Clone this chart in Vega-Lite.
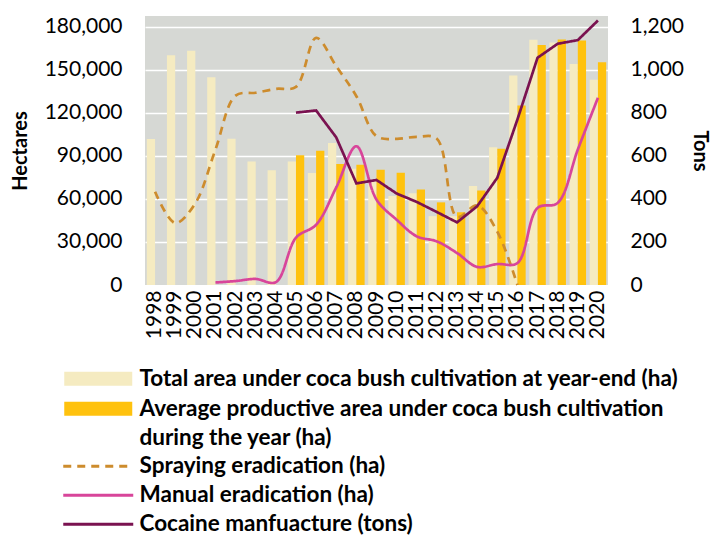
{
  "$schema": "https://vega.github.io/schema/vega-lite/v6.json",
  "width": 463,
  "height": 269,
  "autosize": {"type": "none"},
  "padding": {"left": 145, "top": 16, "right": 105, "bottom": 251},
  "background": "white",
  "config": {
    "view": {"fill": "#D6D8D4", "stroke": null},
    "font": "Lato",
    "axis": {"labelFont": "Lato", "titleFont": "Lato", "labelColor": "black", "titleColor": "black"},
    "legend": {"labelFont": "Lato"}
  },
  "datasets": {
    "bars": [
      {"year": "1998", "series": "Total area under coca bush cultivation at year-end (ha)", "value": 101800},
      {"year": "1999", "series": "Total area under coca bush cultivation at year-end (ha)", "value": 160100},
      {"year": "2000", "series": "Total area under coca bush cultivation at year-end (ha)", "value": 163300},
      {"year": "2001", "series": "Total area under coca bush cultivation at year-end (ha)", "value": 144800},
      {"year": "2002", "series": "Total area under coca bush cultivation at year-end (ha)", "value": 102000},
      {"year": "2003", "series": "Total area under coca bush cultivation at year-end (ha)", "value": 86000},
      {"year": "2004", "series": "Total area under coca bush cultivation at year-end (ha)", "value": 80000},
      {"year": "2005", "series": "Total area under coca bush cultivation at year-end (ha)", "value": 86000},
      {"year": "2006", "series": "Total area under coca bush cultivation at year-end (ha)", "value": 78000},
      {"year": "2007", "series": "Total area under coca bush cultivation at year-end (ha)", "value": 99000},
      {"year": "2008", "series": "Total area under coca bush cultivation at year-end (ha)", "value": 81000},
      {"year": "2009", "series": "Total area under coca bush cultivation at year-end (ha)", "value": 73000},
      {"year": "2010", "series": "Total area under coca bush cultivation at year-end (ha)", "value": 62000},
      {"year": "2011", "series": "Total area under coca bush cultivation at year-end (ha)", "value": 64000},
      {"year": "2012", "series": "Total area under coca bush cultivation at year-end (ha)", "value": 48000},
      {"year": "2013", "series": "Total area under coca bush cultivation at year-end (ha)", "value": 48000},
      {"year": "2014", "series": "Total area under coca bush cultivation at year-end (ha)", "value": 69000},
      {"year": "2015", "series": "Total area under coca bush cultivation at year-end (ha)", "value": 96000},
      {"year": "2016", "series": "Total area under coca bush cultivation at year-end (ha)", "value": 146000},
      {"year": "2017", "series": "Total area under coca bush cultivation at year-end (ha)", "value": 171000},
      {"year": "2018", "series": "Total area under coca bush cultivation at year-end (ha)", "value": 169000},
      {"year": "2019", "series": "Total area under coca bush cultivation at year-end (ha)", "value": 154000},
      {"year": "2020", "series": "Total area under coca bush cultivation at year-end (ha)", "value": 143000},
      {"year": "2005", "series": "Average productive area under coca bush cultivation during the year (ha)", "value": 90400},
      {"year": "2006", "series": "Average productive area under coca bush cultivation during the year (ha)", "value": 93500},
      {"year": "2007", "series": "Average productive area under coca bush cultivation during the year (ha)", "value": 84400},
      {"year": "2008", "series": "Average productive area under coca bush cultivation during the year (ha)", "value": 83800},
      {"year": "2009", "series": "Average productive area under coca bush cultivation during the year (ha)", "value": 80400},
      {"year": "2010", "series": "Average productive area under coca bush cultivation during the year (ha)", "value": 78300},
      {"year": "2011", "series": "Average productive area under coca bush cultivation during the year (ha)", "value": 66500},
      {"year": "2012", "series": "Average productive area under coca bush cultivation during the year (ha)", "value": 57600},
      {"year": "2013", "series": "Average productive area under coca bush cultivation during the year (ha)", "value": 50700},
      {"year": "2014", "series": "Average productive area under coca bush cultivation during the year (ha)", "value": 65800},
      {"year": "2015", "series": "Average productive area under coca bush cultivation during the year (ha)", "value": 94900},
      {"year": "2016", "series": "Average productive area under coca bush cultivation during the year (ha)", "value": 125100},
      {"year": "2017", "series": "Average productive area under coca bush cultivation during the year (ha)", "value": 167200},
      {"year": "2018", "series": "Average productive area under coca bush cultivation during the year (ha)", "value": 171100},
      {"year": "2019", "series": "Average productive area under coca bush cultivation during the year (ha)", "value": 170400},
      {"year": "2020", "series": "Average productive area under coca bush cultivation during the year (ha)", "value": 155300}
    ],
    "eradication": [
      {"year": "1998", "series": "Spraying eradication (ha)", "value": 65000},
      {"year": "1999", "series": "Spraying eradication (ha)", "value": 43200},
      {"year": "2000", "series": "Spraying eradication (ha)", "value": 57000},
      {"year": "2001", "series": "Spraying eradication (ha)", "value": 94400},
      {"year": "2002", "series": "Spraying eradication (ha)", "value": 132000},
      {"year": "2003", "series": "Spraying eradication (ha)", "value": 134000},
      {"year": "2004", "series": "Spraying eradication (ha)", "value": 136700},
      {"year": "2005", "series": "Spraying eradication (ha)", "value": 138100},
      {"year": "2006", "series": "Spraying eradication (ha)", "value": 172300},
      {"year": "2007", "series": "Spraying eradication (ha)", "value": 152500},
      {"year": "2008", "series": "Spraying eradication (ha)", "value": 131600},
      {"year": "2009", "series": "Spraying eradication (ha)", "value": 103700},
      {"year": "2010", "series": "Spraying eradication (ha)", "value": 101900},
      {"year": "2011", "series": "Spraying eradication (ha)", "value": 103300},
      {"year": "2012", "series": "Spraying eradication (ha)", "value": 102000},
      {"year": "2013", "series": "Spraying eradication (ha)", "value": 47500},
      {"year": "2014", "series": "Spraying eradication (ha)", "value": 55500},
      {"year": "2015", "series": "Spraying eradication (ha)", "value": 37200},
      {"year": "2016", "series": "Spraying eradication (ha)", "value": 0},
      {"year": "2001", "series": "Manual eradication (ha)", "value": 1745},
      {"year": "2002", "series": "Manual eradication (ha)", "value": 2762},
      {"year": "2003", "series": "Manual eradication (ha)", "value": 4220},
      {"year": "2004", "series": "Manual eradication (ha)", "value": 2000},
      {"year": "2005", "series": "Manual eradication (ha)", "value": 33000},
      {"year": "2006", "series": "Manual eradication (ha)", "value": 42000},
      {"year": "2007", "series": "Manual eradication (ha)", "value": 68000},
      {"year": "2008", "series": "Manual eradication (ha)", "value": 96700},
      {"year": "2009", "series": "Manual eradication (ha)", "value": 59500},
      {"year": "2010", "series": "Manual eradication (ha)", "value": 45500},
      {"year": "2011", "series": "Manual eradication (ha)", "value": 33900},
      {"year": "2012", "series": "Manual eradication (ha)", "value": 30400},
      {"year": "2013", "series": "Manual eradication (ha)", "value": 22300},
      {"year": "2014", "series": "Manual eradication (ha)", "value": 12600},
      {"year": "2015", "series": "Manual eradication (ha)", "value": 14600},
      {"year": "2016", "series": "Manual eradication (ha)", "value": 15300},
      {"year": "2017", "series": "Manual eradication (ha)", "value": 53700},
      {"year": "2018", "series": "Manual eradication (ha)", "value": 57200},
      {"year": "2019", "series": "Manual eradication (ha)", "value": 94400},
      {"year": "2020", "series": "Manual eradication (ha)", "value": 130500}
    ],
    "cocaine": [
      {"year": "2005", "series": "Cocaine manfuacture (tons)", "value": 801},
      {"year": "2006", "series": "Cocaine manfuacture (tons)", "value": 811},
      {"year": "2007", "series": "Cocaine manfuacture (tons)", "value": 686},
      {"year": "2008", "series": "Cocaine manfuacture (tons)", "value": 472},
      {"year": "2009", "series": "Cocaine manfuacture (tons)", "value": 488},
      {"year": "2010", "series": "Cocaine manfuacture (tons)", "value": 425},
      {"year": "2011", "series": "Cocaine manfuacture (tons)", "value": 386},
      {"year": "2012", "series": "Cocaine manfuacture (tons)", "value": 339},
      {"year": "2013", "series": "Cocaine manfuacture (tons)", "value": 291},
      {"year": "2014", "series": "Cocaine manfuacture (tons)", "value": 366},
      {"year": "2015", "series": "Cocaine manfuacture (tons)", "value": 498},
      {"year": "2016", "series": "Cocaine manfuacture (tons)", "value": 769},
      {"year": "2017", "series": "Cocaine manfuacture (tons)", "value": 1056},
      {"year": "2018", "series": "Cocaine manfuacture (tons)", "value": 1121},
      {"year": "2019", "series": "Cocaine manfuacture (tons)", "value": 1138},
      {"year": "2020", "series": "Cocaine manfuacture (tons)", "value": 1229}
    ]
  },
  "layer": [
    {
      "layer": [
        {
          "data": {"name": "bars"},
          "mark": {"type": "bar"},
          "encoding": {
            "x": {
              "field": "year", "type": "ordinal",
              "scale": {"paddingInner": 0.18, "paddingOuter": 0.09},
              "axis": {"title": null, "labelAngle": -90, "labelFontSize": 21, "labelPadding": 5, "ticks": false, "domain": false, "grid": false}
            },
            "xOffset": {
              "field": "series", "type": "nominal",
              "scale": {"domain": ["Total area under coca bush cultivation at year-end (ha)", "Average productive area under coca bush cultivation during the year (ha)"], "paddingInner": 0, "paddingOuter": 0}
            },
            "y": {
              "field": "value", "type": "quantitative",
              "scale": {"domain": [0, 187500], "nice": false},
              "axis": {
                "orient": "left", "values": [0, 30000, 60000, 90000, 120000, 150000, 180000], "format": ",.0f",
                "labelFontSize": 21, "labelPadding": 23, "ticks": false, "domain": false,
                "grid": true, "gridColor": {"condition": {"test": "datum.value === 0", "value": "transparent"}, "value": "white"}, "gridWidth": 1.5,
                "title": "Hectares", "titleFontSize": 20, "titleFontWeight": "bold", "titlePadding": 14
              }
            },
            "fill": {
              "field": "series", "type": "nominal",
              "scale": {"domain": ["Total area under coca bush cultivation at year-end (ha)", "Average productive area under coca bush cultivation during the year (ha)"], "range": ["#F5EBC1", "#FFC20E"]},
              "legend": {
                "orient": "none", "legendX": -58, "legendY": 351.5, "title": null, "padding": 0,
                "symbolType": "M-4.857,-1H4.857V1H-4.857Z", "symbolSize": 196, "symbolStrokeWidth": 0,
                "labelFontSize": 22.5, "labelFontWeight": "bold", "labelColor": "black", "labelOffset": 30, "rowPadding": 7, "labelLimit": 0,
                "labelExpr": "datum.label == 'Average productive area under coca bush cultivation during the year (ha)' ? ['Average productive area under coca bush cultivation', 'during the year (ha)'] : datum.label",
                "encode": {"labels": {"update": {"lineHeight": {"value": 29}}}}
              }
            }
          }
        },
        {
          "data": {"name": "eradication"},
          "mark": {"type": "line", "interpolate": "catmull-rom", "strokeWidth": 2.7},
          "encoding": {
            "x": {"field": "year", "type": "ordinal"},
            "y": {"field": "value", "type": "quantitative"},
            "stroke": {
              "field": "series", "type": "nominal",
              "scale": {"domain": ["Spraying eradication (ha)", "Manual eradication (ha)", "Cocaine manfuacture (tons)"], "range": ["#CD8C2D", "#D8459A", "#7A1250"]},
              "legend": {
                "orient": "none", "legendX": -58, "legendY": 439, "title": null, "padding": 0,
                "symbolType": "M-5,0H5", "symbolSize": 196, "symbolStrokeWidth": 3,
                "labelFontSize": 22.5, "labelFontWeight": "bold", "labelColor": "black", "labelOffset": 30, "rowPadding": 6, "labelLimit": 0
              }
            },
            "strokeDash": {
              "field": "series", "type": "nominal",
              "scale": {"domain": ["Spraying eradication (ha)", "Manual eradication (ha)", "Cocaine manfuacture (tons)"], "range": [[8, 6], [1, 0], [1, 0]]},
              "legend": {
                "orient": "none", "legendX": -58, "legendY": 439, "title": null, "padding": 0,
                "symbolType": "M-5,0H5", "symbolSize": 196, "symbolStrokeWidth": 3,
                "labelFontSize": 22.5, "labelFontWeight": "bold", "labelColor": "black", "labelOffset": 30, "rowPadding": 6, "labelLimit": 0
              }
            }
          }
        }
      ]
    },
    {
      "data": {"name": "cocaine"},
      "mark": {"type": "line", "strokeWidth": 2.7},
      "encoding": {
        "x": {"field": "year", "type": "ordinal"},
        "y": {
          "field": "value", "type": "quantitative",
          "scale": {"domain": [0, 1250], "nice": false},
          "axis": {
            "orient": "right", "values": [0, 200, 400, 600, 800, 1000, 1200], "format": ",.0f",
            "labelFontSize": 21, "labelPadding": 22, "ticks": false, "domain": false, "grid": false,
            "title": "Tons", "titleFontSize": 20, "titleFontWeight": "bold", "titlePadding": 6
          }
        },
        "stroke": {"field": "series", "type": "nominal"},
        "strokeDash": {"field": "series", "type": "nominal"}
      }
    }
  ],
  "resolve": {"scale": {"y": "independent"}, "axis": {"y": "independent"}}
}
